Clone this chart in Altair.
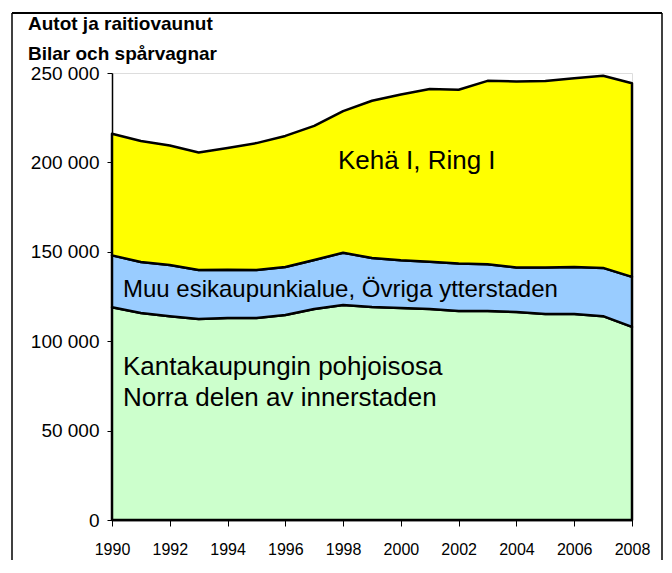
import altair as alt
import pandas as pd

years = list(range(1990, 2009))
# cumulative boundaries
total = [216000, 212000, 209500, 205500, 208000, 210800, 214800, 220400, 228700, 234500,
         238000, 241000, 240600, 245600, 245300, 245500, 247000, 248500, 244300]
mid_top = [148000, 144300, 142600, 139800, 140000, 139800, 141500, 145400, 149500, 146500,
           145300, 144500, 143500, 143000, 141200, 141200, 141500, 141000, 136000]
green = [119000, 115800, 114000, 112400, 113000, 113000, 114700, 118000, 120200, 119100,
         118600, 118000, 116900, 116900, 116300, 115200, 115200, 114000, 108000]

series = ["Kantakaupungin pohjoisosa", "Muu esikaupunkialue", "Kehä I"]
colors = ["#CCFFCC", "#99CCFF", "#FFFF00"]

rows = []
for i, y in enumerate(years):
    rows.append({"year": y, "series": series[0], "value": green[i], "ord": 0})
    rows.append({"year": y, "series": series[1], "value": mid_top[i] - green[i], "ord": 1})
    rows.append({"year": y, "series": series[2], "value": total[i] - mid_top[i], "ord": 2})
df = pd.DataFrame(rows)

label_text = ["Kehä I, Ring I", "Muu esikaupunkialue, Övriga ytterstaden",
              "Kantakaupungin pohjoisosa", "Norra delen av innerstaden"]
label_x = [2000.55, 1990.38, 1990.38, 1990.38]
label_y = [201000, 128600, 85600, 68200]
label_align = ["center", "left", "left", "left"]
label_size = [26, 24, 26, 26]
labels = pd.DataFrame({"t": label_text, "x": label_x, "y": label_y,
                       "align": label_align, "size": label_size})

title_lines = ["Autot ja raitiovaunut", "Bilar och spårvagnar"]

FONT = "Liberation Sans"

xscale = alt.Scale(domain=[1990, 2008], nice=False, zero=False)
yscale = alt.Scale(domain=[0, 250000], nice=False)

areas = alt.Chart(df).mark_area(stroke="black", strokeWidth=2.5, strokeJoin="round").encode(
    x=alt.X("year:Q", scale=xscale, title=None,
            axis=alt.Axis(values=years, labelExpr="datum.value % 2 == 0 ? toString(datum.value) : ''",
                          labelFont=FONT, labelFontSize=16, labelColor="black",
                          tickColor="black", tickSize=6, domainColor="black", domainWidth=1.5,
                          labelPadding=15, grid=False, labelOverlap=False, labelFlush=False)),
    y=alt.Y("value:Q", stack="zero", scale=yscale, title=None,
            axis=alt.Axis(values=[0, 50000, 100000, 150000, 200000, 250000],
                          labelExpr="replace(format(datum.value, ','), ',', ' ')",
                          labelFont=FONT, labelFontSize=19, labelColor="black",
                          tickColor="black", tickSize=5, domainColor="black", domainWidth=1.5,
                          labelPadding=8, grid=False)),
    color=alt.Color("series:N", scale=alt.Scale(domain=series, range=colors), legend=None),
    order=alt.Order("ord:Q"),
)

text_left = alt.Chart(labels[labels["align"] == "left"]).mark_text(
    align="left", baseline="middle", font=FONT, color="black"
).encode(x=alt.X("x:Q", scale=xscale), y=alt.Y("y:Q", scale=yscale), text="t:N",
         size=alt.Size("size:Q", scale=None, legend=None))

text_center = alt.Chart(labels[labels["align"] == "center"]).mark_text(
    align="center", baseline="middle", font=FONT, color="black"
).encode(x=alt.X("x:Q", scale=xscale), y=alt.Y("y:Q", scale=yscale), text="t:N",
         size=alt.Size("size:Q", scale=None, legend=None))

title1 = alt.Chart(pd.DataFrame({"t": [title_lines[0]]})).mark_text(
    align="left", baseline="middle", font=FONT, fontSize=19, fontWeight="bold", color="black"
).encode(x=alt.value(-84), y=alt.value(-49), text="t:N")
title2 = alt.Chart(pd.DataFrame({"t": [title_lines[1]]})).mark_text(
    align="left", baseline="middle", font=FONT, fontSize=19, fontWeight="bold", color="black"
).encode(x=alt.value(-84), y=alt.value(-19), text="t:N")

one = pd.DataFrame({"a": [0]})
frame_top = alt.Chart(one).mark_rule(color="black", strokeWidth=2, clip=False).encode(
    x=alt.value(-100), x2=alt.value(550), y=alt.value(-60), y2=alt.value(-60))
frame_left = alt.Chart(one).mark_rule(color="black", strokeWidth=1.5, clip=False).encode(
    x=alt.value(-100), x2=alt.value(-100), y=alt.value(-60), y2=alt.value(530))
frame_right = alt.Chart(one).mark_rule(color="black", strokeWidth=1.5, clip=False).encode(
    x=alt.value(550), x2=alt.value(550), y=alt.value(-60), y2=alt.value(530))

chart = alt.layer(areas, text_left, text_center, title1, title2,
                  frame_top, frame_left, frame_right).properties(
    width=520, height=447,
    padding={"left": 104, "top": 65, "right": 32, "bottom": 40},
    autosize=alt.AutoSizeParams(type="none"),
).configure_view(stroke="#888888", strokeWidth=1.5).configure(background="white")

chart.save("out.html", embed_options={"renderer": "svg", "actions": False})
